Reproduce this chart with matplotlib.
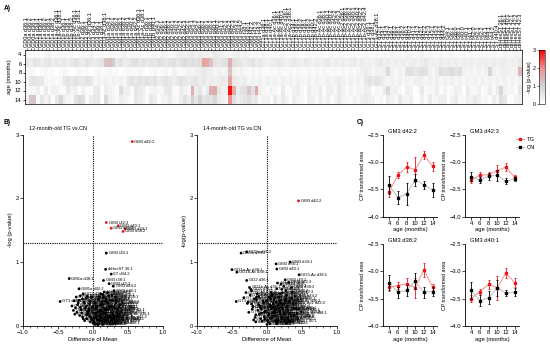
import numpy as np
import matplotlib
matplotlib.use('Agg')
import matplotlib.pyplot as plt
from matplotlib.colors import LinearSegmentedColormap
from matplotlib.lines import Line2D

plt.rcParams['font.family'] = ['Liberation Sans', 'DejaVu Sans']
plt.rcParams['axes.linewidth'] = 0.6

# ---------------- data ----------------
lipids = [
    "GD0a d36:1", "GD0a d36:2", "GD0a d38:1", "GD1a d34:1", "GD1a d36:1", "GD1a d36:2", "GD1a d38:1",
    "GD1a d38:2", "GD1a-Ac d36:1", "GD1a-Ac d38:1", "GD1b d36:1", "GD1b d38:1", "GD1b d38:2",
    "GD1b-Ac d36:1", "GD1b-Ac d38:1", "GD2 d36:1", "GD2 d38:1", "GD2-Ac d36:1", "GD3 d34:1",
    "GD3 d36:1", "GD3 d38:1", "GD3-Ac d38:1",
    "GM1a d34:1", "GM1a d36:1", "GM1a d36:2", "GM1a d38:1", "GM1a d38:2", "GM1a d40:1", "GM1a d40:2",
    "GM1a d42:2", "GM1a-Ac d36:1", "GM1a-Ac d38:1", "GM1b d36:1", "GM1b d38:1", "GM1b d40:1",
    "GM2 d34:1", "GM2 d36:1", "GM2 d38:1", "GM2 d38:2", "GM2 d40:1", "GM2 d40:2", "GM2 d42:2",
    "GM2 d42:3", "GM3 d32:1", "GM3 d34:1", "GM3 d34:2", "GM3 d36:1", "GM3 d36:2", "GM3 d38:1",
    "GM3 d38:2", "GM3 d40:1", "GM3 d40:2", "GM3 d41:1", "GM3 d42:1", "GM3 d42:2", "GM3 d42:3",
    "GM3 d43:2", "GM3 d44:2", "GM3 t38:1", "GM3 t40:1", "GM3 t42:2", "GM3 t42:3", "GM3 t44:2",
    "GT1a d36:1", "GT1a d38:1", "GT1a d40:1", "GT1a-Ac d36:1", "GT1a-Ac d38:1", "GT1a-Ac d40:1",
    "GT1a-Ac2 d36:1", "GT1a-Ac2 d38:1", "GT1b d34:1", "GT1b d36:1", "GT1b d36:2", "GT1b d38:1",
    "GT1b d38:2", "GT1b d40:1", "GT1b d42:2", "GT1b-Ac d36:1", "GT1b-Ac d38:1", "GT1b-Ac d40:1",
    "GT1b-Ac d40:2", "GT1b-Ac d42:2", "GT1b-Ac d42:3", "GT1b-Ac2 d36:1", "GT1b-Ac2 d38:1",
    "GT1b-Ac2 d38:2", "GT1b-Ac2 d40:1", "GT1b-Ac2 d40:2", "GT1b-Ac2 d42:2", "GT1b-Ac2 d42:4",
    "GT3 d36:1", "GT3 d38:1", "GT3-Ac d38:1",
    "ST d32:1", "ST d34:1", "ST d34:2", "ST d36:1", "ST d36:2", "ST d38:1", "ST d38:2", "ST d40:1",
    "ST d40:2", "ST d41:1", "ST d41:2", "ST d42:1", "ST d42:2", "ST d42:3", "ST d43:1", "ST d43:2",
    "ST d44:1", "ST d44:2", "ST t34:1", "ST t36:1", "ST t38:0", "ST t38:1", "ST t40:0", "ST t40:1",
    "ST t41:1", "ST t42:0", "ST t42:1", "ST t42:2", "ST t43:1", "ST t44:1", "ST t44:2", "ST d40:4",
    "diHexST 36:1", "diHexST 38:1", "diHexST 40:1", "diHexST 42:1", "diHexST 42:2", "diHexST 42:3",
]

heat_ages = ["4", "6", "8", "10", "12", "14"]

# -log(p) at 4, 6, 8, 10 months (in tenths)
nlp_4_x10 = [2, 1, 2, 1, 0, 2, 3, 1, 1, 2, 1,
             1, 2, 0, 1, 2, 1, 3, 1, 1, 2, 1,
             2, 1, 1, 2, 3, 1, 2, 1, 2, 1, 2,
             1, 2, 1, 3, 2, 1, 2, 3, 4, 3, 4,
             5, 3, 4, 3, 4, 3, 5, 4, 3, 2, 2,
             3, 4, 2, 3, 2, 1, 2, 1, 2, 1, 1,
             2, 1, 2, 1, 1, 2, 1, 0, 1, 2, 1,
             1, 2, 1, 1, 2, 1, 2, 1, 1, 1, 2,
             1, 1, 2, 1, 1, 2, 1, 2, 1, 3, 2,
             2, 1, 3, 2, 1, 2, 3, 1, 2, 1, 1,
             2, 1, 2, 2, 1, 1, 2, 1, 2, 1, 1,
             2, 1, 1, 2, 1, 1, 3, 2, 2, 3, 2]
nlp_6_x10 = [5, 4, 6, 5, 4, 5, 6, 4, 5, 4, 5,
             4, 5, 6, 5, 4, 6, 5, 4, 5, 6, 12,
             13, 11, 5, 6, 4, 5, 6, 7, 5, 6, 5,
             6, 5, 7, 6, 5, 6, 7, 5, 6, 8, 6,
             7, 6, 7, 17, 16, 12, 6, 5, 6, 7, 15,
             7, 6, 5, 4, 5, 6, 4, 5, 4, 3, 4,
             4, 5, 4, 3, 4, 5, 4, 3, 5, 4, 3,
             4, 3, 4, 5, 3, 4, 3, 4, 3, 4, 5,
             3, 4, 3, 4, 3, 4, 5, 3, 4, 3, 4,
             3, 4, 3, 4, 4, 3, 4, 5, 3, 4, 3,
             4, 3, 4, 3, 4, 3, 4, 3, 4, 3, 4,
             3, 4, 3, 4, 3, 4, 4, 3, 4, 3, 5]
nlp_8_x10 = [1, 2, 1, 0, 1, 2, 1, 1, 0, 1, 2,
             1, 0, 1, 2, 1, 1, 0, 1, 2, 1, 1,
             2, 1, 1, 0, 1, 2, 1, 1, 2, 1, 0,
             1, 2, 1, 1, 2, 1, 3, 2, 1, 2, 3,
             2, 3, 4, 5, 4, 3, 2, 3, 2, 3, 12,
             3, 2, 3, 2, 1, 2, 1, 2, 1, 1, 2,
             1, 2, 1, 1, 2, 1, 2, 1, 1, 2, 1,
             2, 1, 2, 1, 1, 2, 1, 2, 1, 2, 1,
             2, 3, 4, 3, 2, 3, 3, 4, 8, 3, 2,
             3, 2, 6, 7, 5, 6, 7, 6, 3, 2, 4,
             7, 6, 7, 8, 6, 7, 3, 2, 3, 2, 3,
             2, 3, 9, 3, 2, 3, 4, 3, 2, 3, 14]
nlp_10_x10 = [2, 5, 6, 5, 5, 2, 1, 2, 1, 2, 5,
              6, 5, 6, 5, 5, 6, 5, 2, 3, 2, 3,
              2, 3, 2, 3, 2, 5, 6, 5, 6, 5, 6,
              5, 6, 4, 5, 6, 5, 4, 5, 6, 5, 4,
              5, 6, 4, 5, 3, 4, 3, 4, 5, 4, 17,
              5, 4, 3, 4, 2, 3, 2, 3, 2, 3, 2,
              3, 2, 3, 2, 3, 2, 3, 2, 2, 3, 2,
              3, 2, 2, 3, 2, 3, 4, 3, 2, 3, 2,
              3, 2, 5, 6, 5, 6, 5, 3, 2, 3, 2,
              3, 2, 3, 2, 3, 4, 3, 2, 3, 2, 3,
              2, 3, 2, 3, 2, 3, 2, 3, 2, 3, 2,
              3, 2, 3, 2, 3, 2, 3, 2, 3, 2, 3]

# 12-month TG vs CN: difference of mean and -log(p)
diff_12 = [0.05, -0.08, 0.12, -0.12, 0.02, -0.15, 0.08, -0.22, 0.15, -0.05, 0.10,
           -0.18, 0.20, -0.10, 0.03, -0.25, 0.18, -0.02, 0.25, -0.14, 0.06, 0.22,
           -0.06, 0.28, 0.01, -0.34, 0.14, -0.20, 0.30, -0.20, 0.09, -0.04, 0.17,
           -0.28, 0.26, 0.04, -0.16, 0.32, 0.11, -0.09, 0.35, 0.19, -0.01, 0.24,
           0.46, 0.13, 0.30, 0.07, 0.27, 0.43, 0.36, 0.21, 0.05, 0.33, 0.56,
           0.26, 0.15, 0.29, 0.15, 0.19, 0.23, 0.19, 0.12, -0.07, 0.16, -0.11,
           0.38, 0.00, -0.24, 0.21, -0.03, 0.31, 0.08, -0.19, 0.14, -0.13, 0.40,
           0.02, -0.27, 0.24, 0.10, -0.30, 0.34, -0.08, 0.18, 0.06, -0.17, 0.27,
           0.12, -0.23, 0.20, -0.47, -0.04, 0.16, 0.09, -0.10, 0.26, 0.04, -0.21,
           0.29, 0.13, -0.05, 0.37, 0.07, -0.15, 0.22, 0.01, 0.33, -0.26, 0.17,
           0.42, 0.10, -0.12, 0.25, 0.03, -0.18, 0.31, 0.14, -0.06, 0.20, 0.38,
           0.08, -0.09, 0.28, 0.11, -0.02, 0.18, 0.23, 0.05, 0.35, -0.14, 0.16]
nlp_12 = [0.12, 0.22, 0.18, 0.35, 0.05, 0.42, 0.10, 0.33, 0.28, 0.15, 0.08,
          0.47, 0.25, 0.30, 0.02, 0.28, 0.14, 0.09, 0.40, 0.50, 0.03, 0.35,
          0.26, 0.20, 0.07, 0.74, 0.33, 0.40, 0.12, 0.58, 0.45, 0.38, 0.06,
          0.24, 0.30, 0.16, 0.20, 0.45, 0.50, 0.11, 0.08, 0.42, 0.29, 0.15,
          1.52, 0.38, 0.55, 0.22, 0.48, 1.48, 1.57, 0.52, 0.31, 0.36, 2.89,
          1.53, 0.44, 0.62, 0.71, 1.14, 0.66, 1.62, 0.34, 0.19, 0.10, 0.27,
          0.18, 0.04, 0.45, 0.09, 0.13, 0.27, 0.41, 0.16, 0.02, 0.37, 0.22,
          0.20, 0.39, 0.05, 0.32, 0.31, 0.14, 0.46, 0.26, 0.09, 0.25, 0.11,
          0.23, 0.21, 0.37, 0.38, 0.06, 0.19, 0.15, 0.43, 0.81, 0.27, 0.36,
          0.17, 0.07, 0.34, 0.29, 0.01, 0.14, 0.47, 0.12, 0.21, 0.18, 0.39,
          0.10, 0.24, 0.08, 0.13, 0.35, 0.29, 0.04, 0.49, 0.23, 0.16, 0.33,
          0.03, 0.17, 0.40, 0.12, 0.44, 0.885, 0.30, 0.20, 0.25, 0.11, 0.53]

# 14-month TG vs CN
diff_14 = [-0.10, -0.29, -0.37, 0.05, -0.22, 0.12, -0.15, 0.02, -0.30, -0.50, 0.20,
           -0.08, 0.08, -0.25, -0.43, -0.29, 0.15, -0.18, 0.28, -0.23, 0.04, 0.46,
           -0.12, 0.18, -0.04, 0.10, -0.20, 0.25, 0.01, -0.14, 0.32, 0.06, -0.09,
           0.22, -0.27, 0.13, 0.38, -0.02, 0.17, -0.16, 0.30, 0.09, 0.24, -0.06,
           0.33, 0.14, 0.13, 0.27, 0.20, 0.35, 0.14, 0.05, 0.29, 0.11, 0.45,
           0.31, 0.18, 0.40, 0.21, 0.26, 0.07, 0.36, 0.12, -0.20, -0.10, 0.16,
           -0.33, 0.03, -0.24, 0.23, -0.07, 0.19, -0.13, 0.34, 0.00, -0.28, 0.09,
           -0.17, 0.27, 0.43, -0.05, 0.15, -0.21, 0.06, 0.30, -0.11, 0.21, 0.04,
           -0.26, 0.37, 0.11, -0.44, 0.17, -0.03, 0.08, 0.25, -0.15, 0.41, 0.02,
           0.19, -0.08, 0.32, 0.13, -0.19, 0.28, 0.05, 0.22, -0.12, 0.39, 0.10,
           -0.01, 0.24, 0.14, -0.09, 0.35, 0.07, 0.19, -0.22, 0.29, 0.03, 0.16,
           0.44, -0.04, 0.12, 0.26, 0.49, 0.15, 0.06, 0.33, -0.16, 0.21, 0.09]
nlp_14 = [0.30, 1.16, 1.14, 0.12, 0.55, 0.25, 0.45, 0.06, 0.52, 0.88, 0.35,
          0.20, 0.15, 0.60, 0.84, 0.71, 0.10, 0.42, 0.48, 0.57, 0.03, 0.80,
          0.33, 0.22, 0.14, 0.40, 0.30, 0.18, 0.08, 0.50, 0.38, 0.27, 0.11,
          0.52, 0.37, 0.06, 0.28, 0.23, 0.45, 0.17, 0.12, 0.34, 0.62, 0.39,
          1.00, 0.58, 0.97, 0.55, 0.65, 0.60, 0.89, 0.43, 0.31, 0.21, 1.96,
          0.68, 0.38, 0.46, 0.57, 0.72, 0.49, 0.53, 0.16, 0.30, 0.31, 0.09,
          0.44, 0.19, 0.48, 0.26, 0.07, 0.40, 0.24, 0.15, 0.02, 0.35, 0.29,
          0.13, 0.42, 0.20, 0.36, 0.05, 0.26, 0.47, 0.24, 0.18, 0.13, 0.33,
          0.21, 0.35, 0.44, 0.38, 0.27, 0.10, 0.20, 0.08, 0.41, 0.27, 0.16,
          0.50, 0.26, 0.19, 0.37, 0.09, 0.04, 0.30, 0.11, 0.46, 0.16, 0.22,
          0.39, 0.34, 0.03, 0.28, 0.43, 0.12, 0.18, 0.34, 0.26, 0.45, 0.32,
          0.11, 0.21, 0.08, 0.39, 0.22, 0.67, 0.52, 0.07, 0.06, 0.29, 0.36]

# Panel C: time courses
ages_c = [4, 6, 8, 10, 12, 14]
c_titles = ["GM3 d42:2", "GM3 d42:3", "GM3 d38:2", "GM3 d40:1"]
tg_mean = [[-3.54, -3.24, -3.09, -3.14, -2.87, -3.08],
           [-3.33, -3.24, -3.23, -3.16, -3.09, -3.28],
           [-3.29, -3.26, -3.23, -3.30, -2.97, -3.29],
           [-3.50, -3.37, -3.24, -3.30, -3.03, -3.21]]
tg_err = [[0.10, 0.05, 0.09, 0.23, 0.08, 0.08],
          [0.05, 0.05, 0.05, 0.10, 0.07, 0.04],
          [0.07, 0.06, 0.10, 0.18, 0.13, 0.05],
          [0.06, 0.05, 0.08, 0.22, 0.10, 0.08]]
cn_mean = [[-3.42, -3.65, -3.58, -3.32, -3.42, -3.51],
           [-3.27, -3.33, -3.26, -3.24, -3.35, -3.31],
           [-3.21, -3.38, -3.35, -3.18, -3.38, -3.37],
           [-3.35, -3.54, -3.48, -3.30, -3.40, -3.38]]
cn_err = [[0.17, 0.12, 0.20, 0.11, 0.08, 0.13],
          [0.08, 0.06, 0.06, 0.10, 0.05, 0.04],
          [0.14, 0.10, 0.10, 0.15, 0.10, 0.08],
          [0.15, 0.10, 0.12, 0.15, 0.06, 0.07]]

# ---------------- figure ----------------
W, Hh = 550, 346
fig = plt.figure(figsize=(5.5, 3.46), dpi=100)
FS = 4.2
RED = '#e8141b'


def fx(px):
    return px / W


def fy(py):
    return 1 - py / Hh


# Panel A heatmap
cmap = LinearSegmentedColormap.from_list(
    'wgr', [(0, '#ffffff'), (1 / 3, '#d2d2d2'), (2 / 3, '#f08e8e'), (1, '#ff0000')])
axh = fig.add_axes([fx(25), fy(104), fx(522) - fx(25), fy(50) - fy(104)])
Hmat = np.array([np.array(nlp_4_x10) / 10, np.array(nlp_6_x10) / 10,
                 np.array(nlp_8_x10) / 10, np.array(nlp_10_x10) / 10,
                 np.array(nlp_12), np.array(nlp_14)])
im = axh.imshow(Hmat, aspect='auto', cmap=cmap, vmin=0, vmax=3, interpolation='nearest')
axh.xaxis.tick_top()
axh.set_xticks(range(len(lipids)))
axh.set_xticklabels(lipids, rotation=90, fontsize=4.0)
axh.set_yticks(range(len(heat_ages)))
axh.set_yticklabels(heat_ages, fontsize=FS)
axh.tick_params(axis='x', length=1.5, width=0.4, pad=1)
axh.tick_params(axis='y', length=1.5, width=0.5, pad=1)
axh.set_ylabel('age (months)', fontsize=FS, labelpad=2)
for s in axh.spines.values():
    s.set_linewidth(0.5)

cax = fig.add_axes([fx(539), fy(104), fx(545) - fx(539), fy(50) - fy(104)])
cb = fig.colorbar(im, cax=cax)
cb.set_ticks([0, 1, 2, 3])
cax.yaxis.set_ticks_position('left')
cax.yaxis.set_label_position('left')
cax.tick_params(labelsize=3.8, length=1.2, width=0.4, pad=1)
cb.set_label('-log (p-value)', fontsize=3.8, labelpad=1)
cb.outline.set_linewidth(0.4)

fig.text(fx(4), fy(8), 'A)', fontsize=4.8, fontweight='bold', va='center')
fig.text(fx(4), fy(122), 'B)', fontsize=4.8, fontweight='bold', va='center')
fig.text(fx(357), fy(122), 'C)', fontsize=4.8, fontweight='bold', va='center')


# Panel B volcano plots
def volcano(ax, dx, ny, title, ylabel):
    cols = [RED if v > 1.3 else 'black' for v in ny]
    ax.scatter(dx, ny, s=4, c=cols, linewidths=0, zorder=3)
    for name, x, y in zip(lipids, dx, ny):
        ax.annotate(name, (x, y), xytext=(1.6, 0), textcoords='offset points',
                    fontsize=3.0, va='center', ha='left', zorder=4)
    ax.axhline(1.3, ls=(0, (1, 1)), color='black', lw=0.8, zorder=1)
    ax.axvline(0, ls=(0, (1, 1)), color='black', lw=0.8, zorder=1)
    ax.set_xlim(-1, 1)
    ax.set_ylim(0, 3)
    ax.set_xticks([-1.0, -0.5, 0.0, 0.5, 1.0])
    ax.set_xticks(np.arange(-1.0, 1.01, 0.1), minor=True)
    ax.set_yticks([0, 1, 2, 3])
    ax.spines['top'].set_visible(False)
    ax.spines['right'].set_visible(False)
    ax.tick_params(labelsize=FS, length=2, width=0.5, pad=1)
    ax.tick_params(which='minor', length=1.2, width=0.4)
    ax.set_xlabel('Difference of Mean', fontsize=FS, labelpad=1.5)
    ax.set_ylabel(ylabel, fontsize=FS, labelpad=2)
    ax.text(0.04, 1.02, title, transform=ax.transAxes, fontsize=4.0, va='bottom', ha='left')


axv1 = fig.add_axes([fx(23), fy(325.7), fx(163) - fx(23), fy(134.6) - fy(325.7)])
volcano(axv1, diff_12, nlp_12, '12-month-old TG vs.CN', '-log (p-value)')
axv2 = fig.add_axes([fx(197), fy(325.7), fx(337) - fx(197), fy(134.6) - fy(325.7)])
volcano(axv2, diff_14, nlp_14, '14-month-old TG vs.CN', '-log(p-value)')


# Panel C time courses
c_pos = [(383, 216.7), (465, 216.7), (383, 326), (465, 326)]
for i in range(4):
    left, bot = c_pos[i]
    ax = fig.add_axes([fx(left), fy(bot), fx(left + 54) - fx(left), fy(bot - 82) - fy(bot)])
    ax.plot(ages_c, cn_mean[i], color='#c4c4c4', lw=0.8, zorder=1)
    ax.plot(ages_c, tg_mean[i], color='#f49a9a', lw=0.8, zorder=1)
    ax.errorbar(ages_c, cn_mean[i], yerr=cn_err[i], fmt='s', color='black', ms=2,
                elinewidth=0.6, capsize=1.0, capthick=0.6, zorder=3)
    ax.errorbar(ages_c, tg_mean[i], yerr=tg_err[i], fmt='s', color=RED, ms=2,
                elinewidth=0.6, capsize=1.0, capthick=0.6, zorder=2)
    ax.set_xlim(2.6, 15)
    ax.set_ylim(-4.0, -2.5)
    ax.set_xticks(ages_c)
    ax.set_yticks([-4.0, -3.5, -3.0, -2.5])
    ax.set_yticklabels(['\u22124.0', '\u22123.5', '\u22123.0', '\u22122.5'])
    ax.spines['top'].set_visible(False)
    ax.spines['right'].set_visible(False)
    ax.tick_params(labelsize=FS, length=2, width=0.5, pad=1)
    ax.set_xlabel('age (months)', fontsize=FS, labelpad=1)
    ax.set_ylabel('CP transformed area', fontsize=3.8, labelpad=2)
    ax.text(0.1, 1.01, c_titles[i], transform=ax.transAxes, fontsize=FS, va='bottom', ha='left')

handles = [Line2D([], [], color='#f49a9a', lw=0.8, marker='s', ms=2, mfc=RED, mec=RED, label='TG'),
           Line2D([], [], color='#c4c4c4', lw=0.8, marker='s', ms=2, mfc='black', mec='black', label='CN')]
fig.legend(handles=handles, loc='upper left', bbox_to_anchor=(fx(512), fy(133)), frameon=False,
           fontsize=FS, handlelength=1.4, handletextpad=0.5, labelspacing=0.4, borderpad=0.2)

fig.savefig('out.png', dpi=100)
